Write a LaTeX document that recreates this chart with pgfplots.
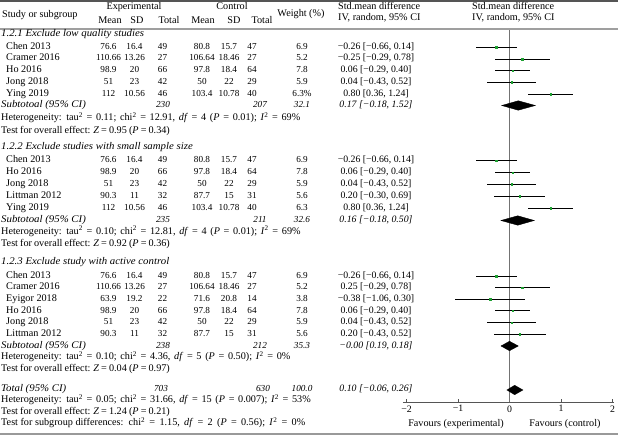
\documentclass[border=0pt]{standalone}
\usepackage{pgfplots}
\usepackage{pgfplotstable}
\pgfplotsset{compat=1.18}
\usepackage{fontspec}
\setmainfont{Liberation Serif}
\newfontfamily\itw{Liberation Serif}[FakeStretch=1.06]
\definecolor{mkgreen}{RGB}{30,160,50}
\definecolor{rulegray}{RGB}{85,85,85}
\definecolor{zerogray}{RGB}{115,115,115}

\newcommand\nf{\fontsize{9.2}{11}\selectfont}
\newcommand\cf{\fontsize{9.8}{11}\selectfont}
\newcommand\study[9]{%
 \node[anchor=mid west] at (6,#1) {#2};
 \node[anchor=mid] at (108.5,#1) {\nf #3};
 \node[anchor=mid] at (134.5,#1) {\nf #4};
 \node[anchor=mid] at (162.5,#1) {\nf #5};
 \node[anchor=mid] at (202,#1) {\nf #6};
 \node[anchor=mid] at (229,#1) {\nf #7};
 \node[anchor=mid] at (252,#1) {\nf #8};
 \node[anchor=mid] at (302,#1) {\nf #9};}
\newcommand\ci[2]{\node[anchor=mid] at (376,#1) {\cf #2};}
\newcommand\lt[2]{\node[anchor=mid west] at (1,#1) {#2};}
\newcommand\het[2]{\node[anchor=mid west] at (1,#1) {\spaceskip=3.7pt plus 0pt #2};}
\newcommand\tst[2]{\node[anchor=mid west] at (1,#1) {\spaceskip=2.1pt plus 0pt #2};}
\newcommand\hd[2]{\node[anchor=mid west] at (1,#1) {\itw\itshape #2};}
\newcommand\sub[5]{%
 \node[anchor=mid west] at (1,#1) {\itw\itshape Subtotoal (95\% CI)};
 \node[anchor=mid] at (163,#1) {\nf\itshape #2};
 \node[anchor=mid] at (260,#1) {\nf\itshape #3};
 \node[anchor=mid] at (302,#1) {\nf\itshape #4};
 \node[anchor=mid] at (376,#1) {\cf\itshape #5};}
\newcommand\sq{\textsuperscript{2}}

% y = minus the row's height from the top of the picture
\pgfplotstableread{
y est lo hi
-47.3 -0.26 -0.66 0.14
-59 0.25 -0.29 0.78
-70.7 0.06 -0.29 0.40
-82.3 0.04 -0.43 0.52
-94 0.80 0.36 1.24
-160.7 -0.26 -0.66 0.14
-172.7 0.06 -0.29 0.40
-184.3 0.04 -0.43 0.52
-196.3 0.20 -0.30 0.69
-208.3 0.80 0.36 1.24
-276 -0.26 -0.66 0.14
-287.7 0.25 -0.29 0.78
-299.3 -0.38 -1.06 0.30
-310.8 0.06 -0.29 0.40
-322.6 0.04 -0.43 0.52
-334.3 0.20 -0.30 0.70
}\studies

\begin{document}
\begin{tikzpicture}
\useasboundingbox (0,0) rectangle (618pt,435pt);
\begin{axis}[
  at={(402.9pt,33pt)}, anchor=south west,
  scale only axis, width=211.15pt, height=374pt,
  xmin=-2.07, xmax=2.03, ymin=-402, ymax=-28,
  axis y line=none, axis x line*=bottom,
  x axis line style={-, rulegray, line width=0.8pt},
  xtick={-2,-1,0,1,2}, xticklabels={−2,−1,0,1,2},
  ytick=\empty,
  tick align=inside, major tick length=3pt,
  tick style={rulegray, line width=0.6pt},
  xticklabel style={font=\fontsize{9.8}{11}\selectfont, yshift=0pt},
  clip=false,
]
\addplot[zerogray, line width=1.2pt] coordinates {(0,-29) (0,-402)};
\addplot[only marks, mark=square*, mark size=0.85pt, mkgreen,
  error bars/.cd, x dir=both, x explicit, error mark=none,
  error bar style={black, line width=0.7pt}]
  table[x=est, y=y, x error plus expr=\thisrow{hi}-\thisrow{est},
        x error minus expr=\thisrow{est}-\thisrow{lo}] {\studies};
\addplot[fill=black, draw=black] coordinates {(-0.15,-105.5) (0.17,-100.8) (0.50,-105.5) (0.17,-110.2)} --cycle;
\addplot[fill=black, draw=black] coordinates {(-0.165,-220.5) (0.16,-215.8) (0.48,-220.5) (0.16,-225.2)} --cycle;
\addplot[fill=black, draw=black] coordinates {(-0.165,-346) (0.0,-341.3) (0.17,-346) (0.0,-350.7)} --cycle;
\addplot[fill=black, draw=black] coordinates {(-0.05,-390) (0.10,-385.3) (0.26,-390) (0.10,-394.7)} --cycle;
\end{axis}

\begin{scope}[x=1pt, y=-1pt, shift={(0pt,435pt)}, font=\fontsize{10.2}{12}\selectfont, inner sep=0pt]
\draw[rulegray, line width=2pt] (0,0.9) -- (618,0.9);
\draw[gray!75, line width=1.8pt] (0,29) -- (618,29);
\draw[gray!80, line width=2.6pt] (0,434) -- (618,434);
% header
\node[anchor=mid west] at (2,15.5) {Study or subgroup};
\node[anchor=mid] at (134,7.5) {Experimental};
\node[anchor=mid] at (232,7.5) {Control};
\node[anchor=mid] at (110,21) {Mean};
\node[anchor=mid] at (137,21) {SD};
\node[anchor=mid] at (169,21) {Total};
\node[anchor=mid] at (203,21) {Mean};
\node[anchor=mid] at (234,21) {SD};
\node[anchor=mid] at (262,21) {Total};
\node[anchor=mid] at (301,14.5) {Weight (\%)};
\node[anchor=mid west] at (338,7.5) {Std.mean difference};
\node[anchor=mid west] at (338,18.5) {IV, random, 95\% CI};
\node[anchor=mid west] at (472,7.5) {Std.mean difference};
\node[anchor=mid west] at (472,18.5) {IV, random, 95\% CI};
% group 1
\hd{34}{1.2.1 Exclude low quality studies}
\study{47}{Chen 2013}{76.6}{16.4}{49}{80.8}{15.7}{47}{6.9}\ci{47}{−0.26 [−0.66, 0.14]}
\study{58.7}{Cramer 2016}{110.66}{13.26}{27}{106.64}{18.46}{27}{5.2}\ci{58.7}{−0.25 [−0.29, 0.78]}
\study{70.4}{Ho 2016}{98.9}{20}{66}{97.8}{18.4}{64}{7.8}\ci{70.4}{0.06 [−0.29, 0.40]}
\study{82.1}{Jong 2018}{51}{23}{42}{50}{22}{29}{5.9}\ci{82.1}{0.04 [−0.43, 0.52]}
\study{93.8}{Ying 2019}{112}{10.56}{46}{103.4}{10.78}{40}{6.3\%}\ci{93.8}{0.80 [0.36, 1.24]}
\sub{105.5}{230}{207}{32.1}{0.17 [−0.18, 1.52]}
\het{118.5}{Heterogeneity: tau\sq{} = 0.11; chi\sq{} = 12.91, \textit{df} = 4 (\textit{P} = 0.01); \textit{I}\sq{} = 69\%}
\tst{131}{Test for overall effect: \textit{Z} = 0.95 (\textit{P} = 0.34)}
% group 2
\hd{147.5}{1.2.2 Exclude studies with small sample size}
\study{160.7}{Chen 2013}{76.6}{16.4}{49}{80.8}{15.7}{47}{6.9}\ci{160.7}{−0.26 [−0.66, 0.14]}
\study{172.5}{Ho 2016}{98.9}{20}{66}{97.8}{18.4}{64}{7.8}\ci{172.5}{0.06 [−0.29, 0.40]}
\study{184.3}{Jong 2018}{51}{23}{42}{50}{22}{29}{5.9}\ci{184.3}{0.04 [−0.43, 0.52]}
\study{196.2}{Littman 2012}{90.3}{11}{32}{87.7}{15}{31}{5.6}\ci{196.2}{0.20 [−0.30, 0.69]}
\study{208}{Ying 2019}{112}{10.56}{46}{103.4}{10.78}{40}{6.3}\ci{208}{0.80 [0.36, 1.24]}
\sub{220}{235}{211}{32.6}{0.16 [−0.18, 0.50]}
\het{232}{Heterogeneity: tau\sq{} = 0.10; chi\sq{} = 12.81, \textit{df} = 4 (\textit{P} = 0.01); \textit{I}\sq{} = 69\%}
\tst{244}{Test for overall effect: \textit{Z} = 0.92 (\textit{P} = 0.36)}
% group 3
\hd{262.5}{1.2.3 Exclude study with active control}
\study{276}{Chen 2013}{76.6}{16.4}{49}{80.8}{15.7}{47}{6.9}\ci{276}{−0.26 [−0.66, 0.14]}
\study{287.7}{Cramer 2016}{110.66}{13.26}{27}{106.64}{18.46}{27}{5.2}\ci{287.7}{0.25 [−0.29, 0.78]}
\study{299.3}{Eyigor 2018}{63.9}{19.2}{22}{71.6}{20.8}{14}{3.8}\ci{299.3}{−0.38 [−1.06, 0.30]}
\study{310.9}{Ho 2016}{98.9}{20}{66}{97.8}{18.4}{64}{7.8}\ci{310.9}{0.06 [−0.29, 0.40]}
\study{322.6}{Jong 2018}{51}{23}{42}{50}{22}{29}{5.9}\ci{322.6}{0.04 [−0.43, 0.52]}
\study{334.3}{Littman 2012}{90.3}{11}{32}{87.7}{15}{31}{5.6}\ci{334.3}{0.20 [−0.43, 0.52]}
\sub{346}{238}{212}{35.3}{−0.00 [0.19, 0.18]}
\het{357.5}{Heterogeneity: tau\sq{} = 0.10; chi\sq{} = 4.36, \textit{df} = 5 (\textit{P} = 0.50); \textit{I}\sq{} = 0\%}
\tst{369}{Test for overall effect: \textit{Z} = 0.04 (\textit{P} = 0.97)}
% total
\node[anchor=mid west] at (1,389.5) {\itw\itshape Total (95\% CI)};
\node[anchor=mid] at (161,389.5) {\nf\itshape 703};
\node[anchor=mid] at (263,389.5) {\nf\itshape 630};
\node[anchor=mid] at (302,389.5) {\nf\itshape 100.0};
\node[anchor=mid] at (376,389.5) {\cf\itshape 0.10 [−0.06, 0.26]};
\het{400.5}{Heterogeneity: tau\sq{} = 0.05; chi\sq{} = 31.66, \textit{df} = 15 (\textit{P} = 0.007); \textit{I}\sq{} = 53\%}
\tst{412}{Test for overall effect: \textit{Z} = 1.24 (\textit{P} = 0.21)}
\node[anchor=mid west] at (1,423.5) {Test for subgroup differences:\spaceskip=4.3pt plus 0pt{} chi\sq{} = 1.15, \textit{df} = 2 (\textit{P} = 0.56); \textit{I}\sq{} = 0\%};
\node[anchor=mid] at (456,424.5) {Favours (experimental)};
\node[anchor=mid] at (565,424.5) {Favours (control)};
\end{scope}
\end{tikzpicture}
\end{document}
